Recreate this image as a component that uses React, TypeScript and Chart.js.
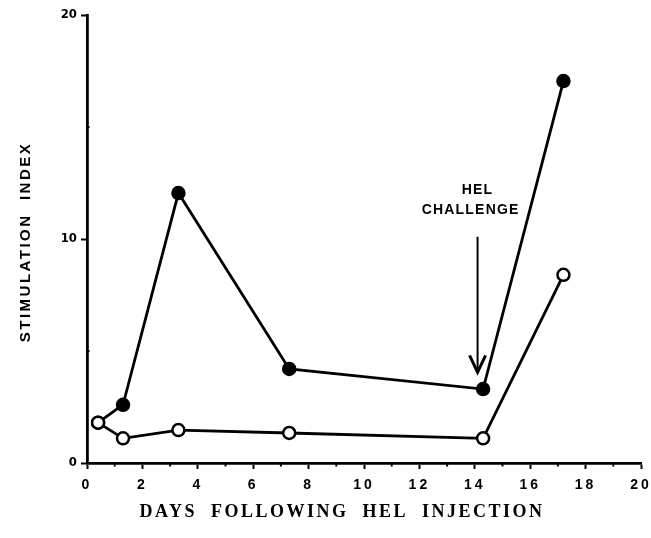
import React, { useEffect, useRef } from 'react';
import { Chart, registerables } from 'chart.js';

Chart.register(...registerables);

// ---- data ----
const days = [0.4, 1.3, 3.3, 7.3, 14.3, 17.2];
const immunizedSI = [1.8, 2.6, 12.05, 4.2, 3.3, 17.05];
const controlSI = [1.8, 1.1, 1.47, 1.34, 1.1, 8.4];
const immunizedFill = ['#ffffff', '#000000', '#000000', '#000000', '#000000', '#000000'];
const xMajorTicks = [0, 2, 4, 6, 8, 10, 12, 14, 16, 18, 20];
const xMinorTicks = [1, 3, 5, 7, 9, 11, 13, 15, 17, 19];
const yMajorTicks = [0, 10, 20];
const yMinorTicks = [5, 15];
const arrowDay = 14.1;
const arrowTop = 10.1;
const arrowTip = 4.05;
const annotationText = ['HEL', 'CHALLENGE'];
const annotationDay = [14.1, 13.85];
const annotationSI = [12.2, 11.3];
const xTitle = 'DAYS  FOLLOWING  HEL  INJECTION';
const yTitle = 'STIMULATION  INDEX';

const SANS = '"Liberation Sans", Arial, Helvetica, sans-serif';

const decorPlugin = {
  id: 'decor',
  beforeDraw(chart: any) {
    chart.ctx.letterSpacing = '3px';
  },
  afterDatasetsDraw(chart: any) {
    chart.ctx.letterSpacing = '0px';
  },
  afterDraw(chart: any) {
    const { ctx, chartArea, scales } = chart;
    const x = scales.x;
    const y = scales.y;
    ctx.save();
    ctx.strokeStyle = '#000';
    ctx.fillStyle = '#000';
    ctx.lineWidth = 2;
    ctx.lineCap = 'butt';
    // minor ticks
    xMinorTicks.forEach((v) => {
      const px = x.getPixelForValue(v);
      ctx.beginPath();
      ctx.moveTo(px, chartArea.bottom);
      ctx.lineTo(px, chartArea.bottom + 3.5);
      ctx.stroke();
    });
    yMinorTicks.forEach((v) => {
      const py = y.getPixelForValue(v);
      ctx.beginPath();
      ctx.moveTo(chartArea.left, py);
      ctx.lineTo(chartArea.left + 2.5, py);
      ctx.stroke();
    });
    // arrow
    const ax = x.getPixelForValue(arrowDay);
    const ay1 = y.getPixelForValue(arrowTop);
    const ay2 = y.getPixelForValue(arrowTip);
    ctx.lineWidth = 2;
    ctx.beginPath();
    ctx.moveTo(ax, ay1);
    ctx.lineTo(ax, ay2);
    ctx.stroke();
    ctx.lineWidth = 3;
    ctx.lineJoin = 'miter';
    ctx.beginPath();
    ctx.moveTo(ax - 8, ay2 - 17);
    ctx.lineTo(ax, ay2);
    ctx.lineTo(ax + 8, ay2 - 17);
    ctx.stroke();
    // annotation text
    ctx.font = `bold 14px ${SANS}`;
    ctx.letterSpacing = '1.2px';
    ctx.textAlign = 'center';
    ctx.textBaseline = 'middle';
    annotationText.forEach((t, i) => {
      ctx.fillText(t, x.getPixelForValue(annotationDay[i]), y.getPixelForValue(annotationSI[i]));
    });
    // x title
    ctx.font = 'bold 18px "Liberation Serif", "Times New Roman", serif';
    ctx.letterSpacing = '2.5px';
    ctx.fillText(xTitle, (chartArea.left + chartArea.right) / 2 - 22, chartArea.bottom + 49);
    // y title
    ctx.save();
    ctx.translate(26, (chartArea.top + chartArea.bottom) / 2 + 3);
    ctx.rotate(-Math.PI / 2);
    ctx.font = `bold 15px ${SANS}`;
    ctx.letterSpacing = '2.5px';
    ctx.fillText(yTitle, 0, 0);
    ctx.restore();
    ctx.restore();
  },
};

export default function App() {
  const ref = useRef<HTMLCanvasElement | null>(null);
  useEffect(() => {
    if (!ref.current) return;
    const chart = new Chart(ref.current, {
      type: 'line',
      data: {
        datasets: [
          {
            label: 'HEL-primed',
            data: days.map((d, i) => ({ x: d, y: immunizedSI[i] })),
            borderColor: '#000',
            borderWidth: 2.8,
            pointRadius: 6,
            pointBorderWidth: 2.5,
            pointBorderColor: '#000',
            pointBackgroundColor: immunizedFill,
            tension: 0,
          },
          {
            label: 'Control',
            data: days.map((d, i) => ({ x: d, y: controlSI[i] })),
            borderColor: '#000',
            borderWidth: 2.8,
            pointRadius: 6,
            pointBorderWidth: 2.5,
            pointBorderColor: '#000',
            pointBackgroundColor: '#ffffff',
            tension: 0,
          },
        ],
      },
      options: {
        animation: false,
        responsive: false,
        devicePixelRatio: 1,
        layout: { padding: { top: 15, right: 10, left: 0, bottom: 0 } },
        plugins: { legend: { display: false }, tooltip: { enabled: false } },
        scales: {
          x: {
            type: 'linear',
            min: 0,
            max: 20,
            afterBuildTicks: (s: any) => {
              s.ticks = xMajorTicks.map((v) => ({ value: v }));
            },
            afterFit: (s: any) => {
              s.height = 75;
              s.paddingLeft = 0;
              s.paddingRight = 0;
            },
            grid: { drawOnChartArea: false, drawTicks: true, tickLength: 6, tickWidth: 2, tickColor: '#000' },
            border: { color: '#000', width: 2.8 },
            ticks: {
              color: '#000',
              padding: 8,
              font: { family: SANS, weight: 'bold', size: 14 },
              maxRotation: 0,
              autoSkip: false,
            },
          },
          y: {
            type: 'linear',
            min: 0,
            max: 20,
            afterBuildTicks: (s: any) => {
              s.ticks = yMajorTicks.map((v) => ({ value: v }));
            },
            afterFit: (s: any) => {
              s.width = 87;
              s.paddingTop = 0;
              s.paddingBottom = 0;
            },
            grid: { drawOnChartArea: false, drawTicks: true, tickLength: 6, tickWidth: 2, tickColor: '#000' },
            border: { color: '#000', width: 2.8 },
            ticks: {
              z: 1,
              color: '#000',
              padding: 4,
              font: { family: '"Liberation Sans Narrow", "DejaVu Sans Condensed", "Liberation Sans", sans-serif', weight: 'bold', size: 13 },
            },
          },
        },
      },
      plugins: [decorPlugin],
    } as any);
    return () => chart.destroy();
  }, []);
  return (
    <div style={{ position: 'fixed', left: 0, top: 0, width: 651, height: 538, background: '#fff' }}>
      <canvas ref={ref} width={651} height={538} />
    </div>
  );
}
